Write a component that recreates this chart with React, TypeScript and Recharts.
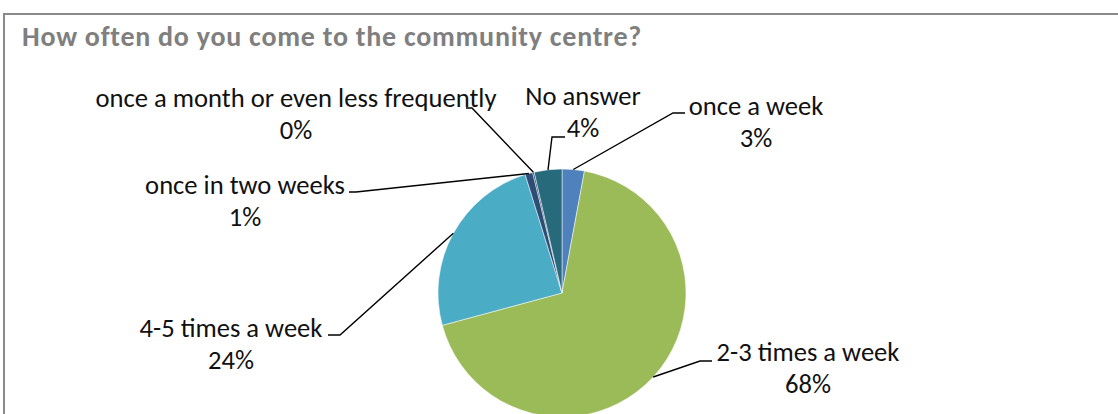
import React from "react";
import { PieChart, Pie, Cell } from "recharts";

const categories = [
  "once a week",
  "2-3 times a week",
  "4-5 times a week",
  "once in two weeks",
  "once a month or even less frequently",
  "No answer",
];
const shares = [2.9, 67.9, 24.4, 1.0, 0.2, 3.6];
const COLORS = ["#4f81bd", "#9bbb59", "#4bacc6", "#2c4d75", "#1f3a5c", "#276a7c"];

// callout layout: text centre x, baseline of the name line, leader elbow, end of the short tail
const CALLOUTS = [
  { tx: 756, base: 115, elbow: [673, 113], tail: 685 },
  { tx: 808, base: 361, elbow: [700, 361], tail: 712 },
  { tx: 231, base: 337, elbow: [340, 335], tail: 328 },
  { tx: 245, base: 194, elbow: [356, 192], tail: 349 },
  { tx: 296, base: 107, elbow: [472, 108], tail: 466 },
  { tx: 583, base: 105, elbow: [552, 137], tail: 565 },
];

const FONT = "Carlito, Lato, 'Open Sans', sans-serif";
const RAD = Math.PI / 180;
const LINE_GAP = 32;

const data = categories.map((name, i) => ({ name, value: shares[i] }));

function renderCallout(props: any) {
  const { cx, cy, midAngle, outerRadius, index, name, percent } = props;
  const c = CALLOUTS[index];
  const sx = cx + outerRadius * Math.cos(-midAngle * RAD);
  const sy = cy + outerRadius * Math.sin(-midAngle * RAD);
  const [ex, ey] = c.elbow;
  return (
    <g key={`callout-${index}`}>
      <polyline
        points={`${sx},${sy} ${ex},${ey} ${c.tail},${ey}`}
        fill="none"
        stroke="#000"
        strokeWidth={1.4}
      />
      <text x={c.tx} y={c.base} textAnchor="middle" fontFamily={FONT} fontSize={26.6} fill="#111">
        {name}
      </text>
      <text x={c.tx} y={c.base + LINE_GAP} textAnchor="middle" fontFamily={FONT} fontSize={26.6} fill="#111">
        {`${Math.round(percent * 100)}%`}
      </text>
    </g>
  );
}

export default function App() {
  return (
    <div
      style={{
        position: "absolute",
        left: 0,
        top: 0,
        width: 1118,
        height: 414,
        overflow: "hidden",
        background: "#fff",
      }}
    >
      <div
        style={{
          position: "absolute",
          left: 3,
          top: 13,
          width: 1200,
          height: 500,
          border: "2px solid #8a8a8a",
        }}
      />
      <svg width={1118} height={60} style={{ position: "absolute", left: 0, top: 0 }}>
        <text
          x={22}
          y={46}
          fontFamily={FONT}
          fontWeight={700}
          fontSize={28}
          letterSpacing={0.75}
          fill="#7f7f7f"
        >
          How often do you come to the community centre?
        </text>
      </svg>
      <PieChart
        width={1118}
        height={414}
        margin={{ top: 0, right: 0, bottom: 0, left: 0 }}
        style={{ position: "absolute", left: 0, top: 0 }}
      >
        <Pie
          data={data}
          dataKey="value"
          nameKey="name"
          cx={562}
          cy={293}
          outerRadius={124}
          startAngle={90}
          endAngle={-270}
          stroke="#ffffff"
          strokeWidth={0.5}
          label={renderCallout}
          labelLine={false}
          isAnimationActive={false}
        >
          {data.map((_, i) => (
            <Cell key={i} fill={COLORS[i]} />
          ))}
        </Pie>
      </PieChart>
    </div>
  );
}
